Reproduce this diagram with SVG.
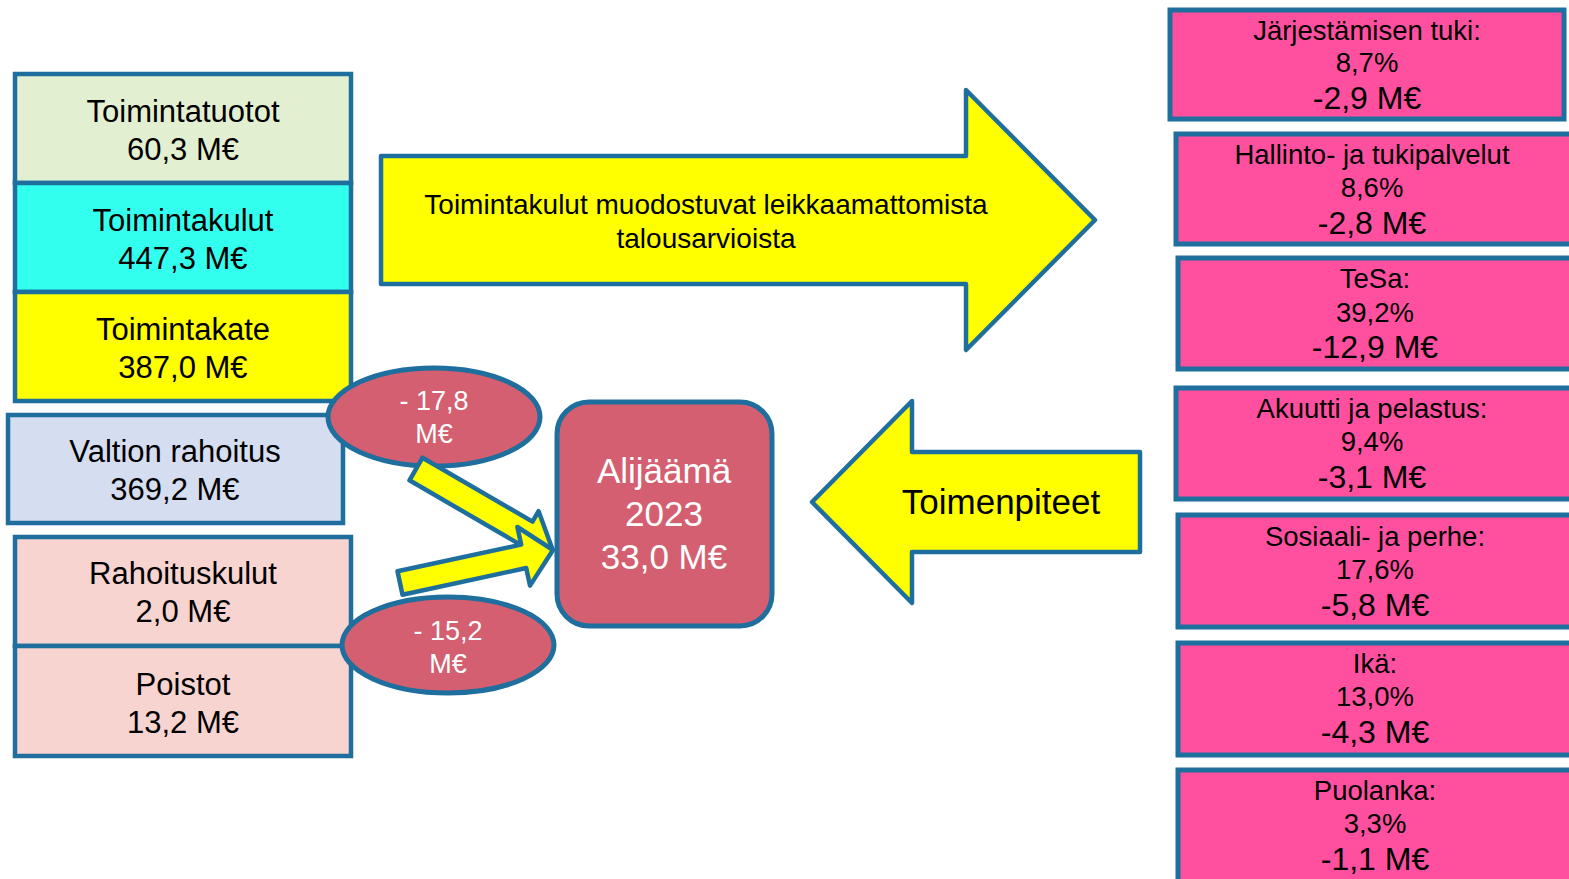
<svg xmlns="http://www.w3.org/2000/svg" width="1569" height="879" viewBox="0 0 1569 879">
<style>
text{font-family:"Liberation Sans",Arial,sans-serif;text-anchor:middle;fill:#000}
.bx{stroke:#1E6E9E;stroke-width:4.5}
.pk{fill:#FF50A0;stroke:#1E6E9E;stroke-width:5}
.yl{fill:#FFFF00;stroke:#1E6E9E;stroke-width:4.5;stroke-linejoin:round}
.rd{fill:#D35F70;stroke:#1E6E9E;stroke-width:5}
.l{font-size:31px}
.r1{font-size:27.5px}
.r2{font-size:32px}
.w{fill:#fff}
</style>
<rect width="1569" height="879" fill="#fff"/>

<g id="toimintatuotot"><rect class="bx" x="15" y="74" width="336" height="109" fill="#E2F0D1"/>
<text class="l" x="183" y="122">Toimintatuotot</text><text class="l" x="183" y="160">60,3 M€</text></g>
<g id="toimintakulut"><rect class="bx" x="15" y="183" width="336" height="109" fill="#33FFEF"/>
<text class="l" x="183" y="231">Toimintakulut</text><text class="l" x="183" y="269">447,3 M€</text></g>
<g id="toimintakate"><rect class="bx" x="15" y="292" width="336" height="109" fill="#FFFF00"/>
<text class="l" x="183" y="340">Toimintakate</text><text class="l" x="183" y="378">387,0 M€</text></g>
<g id="valtion"><rect class="bx" x="8" y="415" width="335" height="108" fill="#D5DDF1"/>
<text class="l" x="175" y="462">Valtion rahoitus</text><text class="l" x="175" y="500">369,2 M€</text></g>
<g id="rahoituskulut"><rect class="bx" x="15" y="537" width="336" height="109" fill="#F8D4D1"/>
<text class="l" x="183" y="584">Rahoituskulut</text><text class="l" x="183" y="622">2,0 M€</text></g>
<g id="poistot"><rect class="bx" x="15" y="646" width="336" height="110" fill="#F8D4D1"/>
<text class="l" x="183" y="695">Poistot</text><text class="l" x="183" y="733">13,2 M€</text></g>

<g id="ero1"><ellipse class="rd" cx="434" cy="417" rx="106" ry="49"/>
<text class="w" font-size="27" x="434" y="410">- 17,8</text><text class="w" font-size="27" x="434" y="443">M€</text></g>
<g id="ero2"><ellipse class="rd" cx="448" cy="645" rx="106" ry="48"/>
<text class="w" font-size="27" x="448" y="640">- 15,2</text><text class="w" font-size="27" x="448" y="673">M€</text></g>

<g id="alijaama"><rect class="rd" x="557" y="402" width="215" height="224" rx="32"/>
<text class="w" font-size="35" x="664" y="483">Alijäämä</text><text class="w" font-size="35" x="664" y="526">2023</text><text class="w" font-size="35" x="664" y="569">33,0 M€</text></g>

<g id="connectors">
<polygon class="yl" points="422.5,457.7 532.5,521.6 538.6,511.2 552,548 513.4,554.6 519.5,544.2 409.5,480.3"/>
<polygon class="yl" points="397.5,571.3 521.2,544.6 517.4,527 553,550 530,585.6 526.2,568 402.5,594.7"/>
</g>

<g id="toimintakulut-arrow"><polygon class="yl" points="381,156 966,156 966,90 1095,220 966,350 966,284 381,284"/>
<text font-size="28" x="706" y="214">Toimintakulut muodostuvat leikkaamattomista</text><text font-size="28" x="706" y="248">talousarvioista</text></g>

<g id="toimenpiteet"><polygon class="yl" points="1140,452 912,452 912,401 812,502 912,603 912,552 1140,552"/>
<text font-size="35" x="1001" y="514">Toimenpiteet</text></g>

<g id="jarjestamisen"><rect class="pk" x="1170" y="10" width="394" height="109"/>
<text class="r1" x="1367" y="40">Järjestämisen tuki:</text><text class="r1" x="1367" y="72">8,7%</text><text class="r2" x="1367" y="109">-2,9 M€</text></g>
<g id="hallinto"><rect class="pk" x="1176" y="134" width="400" height="110"/>
<text class="r1" x="1372" y="164">Hallinto- ja tukipalvelut</text><text class="r1" x="1372" y="197">8,6%</text><text class="r2" x="1372" y="234">-2,8 M€</text></g>
<g id="tesa"><rect class="pk" x="1178" y="258" width="400" height="111"/>
<text class="r1" x="1375" y="288">TeSa:</text><text class="r1" x="1375" y="322">39,2%</text><text class="r2" x="1375" y="358">-12,9 M€</text></g>
<g id="akuutti"><rect class="pk" x="1176" y="388" width="400" height="111"/>
<text class="r1" x="1372" y="418">Akuutti ja pelastus:</text><text class="r1" x="1372" y="451">9,4%</text><text class="r2" x="1372" y="488">-3,1 M€</text></g>
<g id="sosiaali"><rect class="pk" x="1178" y="515" width="400" height="112"/>
<text class="r1" x="1375" y="546">Sosiaali- ja perhe:</text><text class="r1" x="1375" y="579">17,6%</text><text class="r2" x="1375" y="616">-5,8 M€</text></g>
<g id="ika"><rect class="pk" x="1178" y="643" width="400" height="112"/>
<text class="r1" x="1375" y="673">Ikä:</text><text class="r1" x="1375" y="706">13,0%</text><text class="r2" x="1375" y="743">-4,3 M€</text></g>
<g id="puolanka"><rect class="pk" x="1178" y="770" width="400" height="130"/>
<text class="r1" x="1375" y="800">Puolanka:</text><text class="r1" x="1375" y="833">3,3%</text><text class="r2" x="1375" y="870">-1,1 M€</text></g>
</svg>
